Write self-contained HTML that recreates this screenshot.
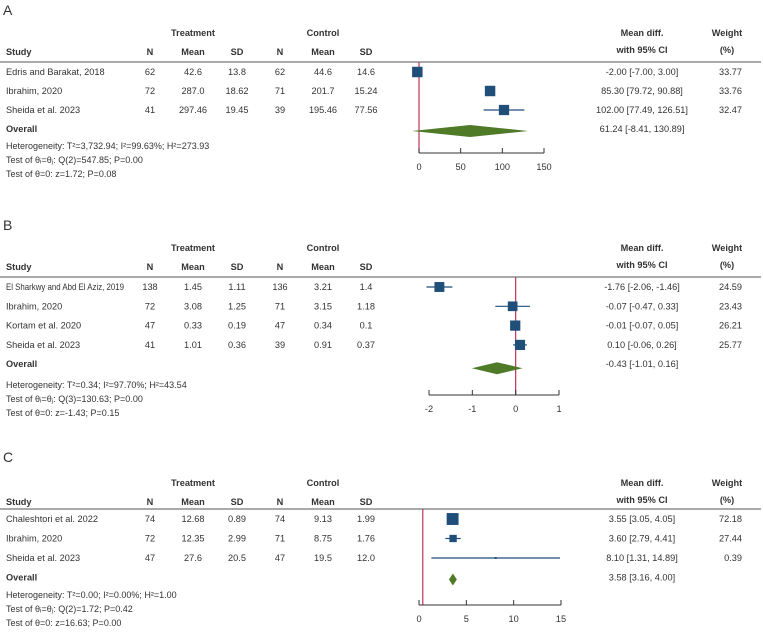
<!DOCTYPE html>
<html><head><meta charset="utf-8"><style>
body{margin:0;background:#fff}
svg{display:block;font-family:"Liberation Sans",Arial,sans-serif;font-size:9.2px;fill:#333}
.b{font-weight:bold}
</style></head><body>
<svg id="c" width="763" height="635"></svg>
<script>
// Panel A
const studiesA=["Edris and Barakat, 2018","Ibrahim, 2020","Sheida et al. 2023"];
const tableA=[["62","42.6","13.8","62","44.6","14.6"],["72","287.0","18.62","71","201.7","15.24"],["41","297.46","19.45","39","195.46","77.56"]];
const effA=[-2.00,85.30,102.00];
const loA=[-7.00,79.72,77.49];
const hiA=[3.00,90.88,126.51];
const wA=[33.77,33.76,32.47];
const ovA=[61.24,-8.41,130.89];
const ticksA=[0,50,100,150];
const statsA=["Heterogeneity: T²=3,732.94; I²=99.63%; H²=273.93","Test of θᵢ=θⱼ: Q(2)=547.85; P=0.00","Test of θ=0: z=1.72; P=0.08"];
// Panel B
const studiesB=["El Sharkwy and Abd El Aziz, 2019","Ibrahim, 2020","Kortam et al. 2020","Sheida et al. 2023"];
const tableB=[["138","1.45","1.11","136","3.21","1.4"],["72","3.08","1.25","71","3.15","1.18"],["47","0.33","0.19","47","0.34","0.1"],["41","1.01","0.36","39","0.91","0.37"]];
const effB=[-1.76,-0.07,-0.01,0.10];
const loB=[-2.06,-0.47,-0.07,-0.06];
const hiB=[-1.46,0.33,0.05,0.26];
const wB=[24.59,23.43,26.21,25.77];
const ovB=[-0.43,-1.01,0.16];
const ticksB=[-2,-1,0,1];
const statsB=["Heterogeneity: T²=0.34; I²=97.70%; H²=43.54","Test of θᵢ=θⱼ: Q(3)=130.63; P=0.00","Test of θ=0: z=-1.43; P=0.15"];
// Panel C
const studiesC=["Chaleshtori et al. 2022","Ibrahim, 2020","Sheida et al. 2023"];
const tableC=[["74","12.68","0.89","74","9.13","1.99"],["72","12.35","2.99","71","8.75","1.76"],["47","27.6","20.5","47","19.5","12.0"]];
const effC=[3.55,3.60,8.10];
const loC=[3.05,2.79,1.31];
const hiC=[4.05,4.41,14.89];
const wC=[72.18,27.44,0.39];
const ovC=[3.58,3.16,4.00];
const ticksC=[0,5,10,15];
const statsC=["Heterogeneity: T²=0.00; I²=0.00%; H²=1.00","Test of θᵢ=θⱼ: Q(2)=1.72; P=0.42","Test of θ=0: z=16.63; P=0.00"];

const svg=document.getElementById('c');
const NS="http://www.w3.org/2000/svg";
function mk(tag,at,parent){const e=document.createElementNS(NS,tag);for(const k in at)e.setAttribute(k,at[k]);(parent||svg).appendChild(e);return e;}
function tx(x,y,s,anchor,cls,parent){const t=mk('text',{x:x,y:y,'text-anchor':anchor||'start'},parent);if(cls)t.setAttribute('class',cls);t.textContent=s;return t;}
const colX=[150,193,237,280,323,366];

function panel(p){
  const g=mk('g',{});
  
  
  const L=tx(3,p.top+5,p.id,'start',null,g);L.setAttribute('font-size','14');
  
  
  tx(193,p.tr,'Treatment','middle','b',g);
  tx(323,p.tr,'Control','middle','b',g);
  tx(642,p.tr,'Mean diff.','middle','b',g);
  tx(642,p.tr+17,'with 95% CI','middle','b',g);
  tx(727,p.tr,'Weight','middle','b',g);
  tx(727,p.tr+17,'(%)','middle','b',g);
  const hy=p.tr+19;
  tx(6,hy,'Study','start','b',g);
  ['N','Mean','SD','N','Mean','SD'].forEach((h,i)=>tx(colX[i],hy,h,'middle','b',g));
  const hl=mk('line',{x1:0,x2:761,y1:p.line,y2:p.line,stroke:'#777','stroke-width':1.2},g);
  
  
  const X=v=>p.x0+(v-p.d0)*(p.x1-p.x0)/(p.d1-p.d0);
  const ry=i=>p.r0+i*p.dr;
  const axisY=p.axis;
  const rl=mk('line',{x1:X(p.ref),x2:X(p.ref),y1:p.line,y2:axisY,stroke:'#c0325a','stroke-width':1.2},g);
  
  
  p.studies.forEach((s,i)=>{
    const y=ry(i);
    const st=tx(6,y+3,s,'start',null,g);
    if(s.length>28){st.setAttribute('textLength','118');st.setAttribute('lengthAdjust','spacingAndGlyphs');}
    p.table[i].forEach((v,j)=>tx(colX[j],y+3,v,'middle',null,g));
    const ci=mk('line',{x1:X(p.lo[i]),x2:X(p.hi[i]),y1:y,y2:y,stroke:'#1f4e79','stroke-width':1.2},g);
    
    
    const sz=Math.max(2,Math.sqrt(p.w[i])*p.sq);
    const r=mk('rect',{x:X(p.eff[i])-sz/2,y:y-sz/2,width:sz,height:sz,fill:'#1f4e79'},g);
    
    
    const ci2=p.eff[i].toFixed(2)+' ['+p.lo[i].toFixed(2)+', '+p.hi[i].toFixed(2)+']';
    tx(642,y+3,ci2,'middle',null,g);
    tx(742,y+3,p.w[i].toFixed(2),'end',null,g);
  });
  const oy=ry(p.studies.length)+p.ovOff;
  tx(6,oy+3-p.ovOff,'Overall','start','b',g);
  const d=mk('polygon',{points:`${X(p.ov[1])},${oy} ${X(p.ov[0])},${oy-p.dh} ${X(p.ov[2])},${oy} ${X(p.ov[0])},${oy+p.dh}`,fill:'#4f7a28'},g);
  
  
  tx(642,oy+3-p.ovOff,p.ov[0].toFixed(2)+' ['+p.ov[1].toFixed(2)+', '+p.ov[2].toFixed(2)+']','middle',null,g);
  p.stats.forEach((s,i)=>{const t=tx(6,p.st+i*14,s,'start',null,g);t.setAttribute('font-size','9');});
  const ax=mk('line',{x1:X(p.ticks[0]),x2:X(p.ticks[p.ticks.length-1]),y1:axisY,y2:axisY,stroke:'#333','stroke-width':1},g);
  
  
  p.ticks.forEach(t=>{
    mk('line',{x1:X(t),x2:X(t),y1:axisY,y2:axisY-5,stroke:'#333'},g);
    tx(X(t),axisY+17,String(t),'middle',null,g);
  });
}
panel({id:'A',top:10,tr:36,line:62,r0:72,dr:19,ovOff:2,dh:6,studies:studiesA,table:tableA,eff:effA,lo:loA,hi:hiA,w:wA,ov:ovA,ticks:ticksA,stats:statsA,x0:419,x1:544,d0:0,d1:150,ref:0,axis:153,st:149,sq:1.8});
panel({id:'B',top:225,tr:251,line:277,r0:287,dr:19.3,ovOff:4,dh:6,studies:studiesB,table:tableB,eff:effB,lo:loB,hi:hiB,w:wB,ov:ovB,ticks:ticksB,stats:statsB,x0:429,x1:559,d0:-2,d1:1,ref:0,axis:395,st:388,sq:2.0});
panel({id:'C',top:457,tr:486,line:509,r0:519,dr:19.5,ovOff:2,dh:6,studies:studiesC,table:tableC,eff:effC,lo:loC,hi:hiC,w:wC,ov:ovC,ticks:ticksC,stats:statsC,x0:419,x1:561,d0:0,d1:15,ref:0.4,axis:605,st:598,sq:1.4});
</script>
</body></html>
